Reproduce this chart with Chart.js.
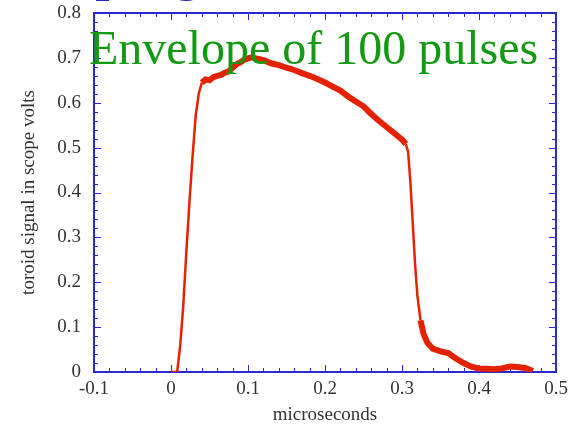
<!DOCTYPE html>
<html>
<head>
<meta charset="utf-8">
<script src="https://cdn.jsdelivr.net/npm/chart.js@4"></script>
<style>
html,body{margin:0;padding:0;background:#fff;}
#wrap{width:571px;height:426px;}
</style>
</head>
<body>
<div id="wrap"><canvas id="c" width="571" height="426"></canvas></div>
<script>
// time in microseconds
const times = [0.000,0.008,0.012,0.016,0.020,0.024,0.028,0.032,0.036,0.040,0.045,0.050,0.055,0.060,0.065,0.070,0.075,0.080,0.085,0.090,0.095,0.100,0.105,0.110,0.115,0.120,0.130,0.140,0.150,0.160,0.170,0.180,0.190,0.200,0.210,0.220,0.230,0.240,0.250,0.260,0.270,0.280,0.290,0.300,0.305,0.308,0.311,0.314,0.317,0.320,0.324,0.328,0.333,0.340,0.350,0.360,0.370,0.380,0.390,0.400,0.410,0.420,0.430,0.440,0.450,0.460,0.470];
// toroid signal (scope volts)
const volts = [0,0,0.06,0.15,0.27,0.38,0.48,0.57,0.62,0.645,0.652,0.650,0.657,0.660,0.662,0.667,0.670,0.678,0.686,0.690,0.696,0.699,0.701,0.699,0.697,0.695,0.688,0.684,0.678,0.673,0.666,0.660,0.653,0.645,0.636,0.627,0.614,0.603,0.592,0.575,0.560,0.546,0.532,0.518,0.508,0.49,0.42,0.33,0.24,0.17,0.115,0.085,0.065,0.052,0.046,0.042,0.030,0.020,0.012,0.008,0.007,0.006,0.008,0.012,0.011,0.009,0.002];
const xTickLabels = ["-0.1","0","0.1","0.2","0.3","0.4","0.5"];
const yTickLabels = ["0","0.1","0.2","0.3","0.4","0.5","0.6","0.7","0.8"];

const serif = "'Liberation Serif', 'DejaVu Serif', serif";
const frameBlue = "#2a2ad0";

// frame with inward ticks on all four sides + overlay texts
const framePlugin = {
  id: "frame",
  beforeDatasetsDraw(chart){
    const {ctx, chartArea:a, scales:{x, y}} = chart;
    ctx.save();
    ctx.strokeStyle = frameBlue;
    ctx.lineWidth = 1;
    for(let i=0;i<=30;i++){
      const v = -0.1 + i*0.02;
      const px = Math.round(x.getPixelForValue(v)) + 0.5;
      const len = (i%5===0) ? 7 : 4;
      ctx.beginPath();
      ctx.moveTo(px, a.bottom); ctx.lineTo(px, a.bottom-len);
      ctx.moveTo(px, a.top); ctx.lineTo(px, a.top+len);
      ctx.stroke();
    }
    for(let i=0;i<=40;i++){
      const v = i*0.02;
      const py = Math.round(y.getPixelForValue(v)) + 0.5;
      const len = (i%5===0) ? 7 : 4;
      ctx.beginPath();
      ctx.moveTo(a.left, py); ctx.lineTo(a.left+len, py);
      ctx.moveTo(a.right, py); ctx.lineTo(a.right-len, py);
      ctx.stroke();
    }
    ctx.lineWidth = 2;
    ctx.strokeRect(a.left, a.top, a.right-a.left, a.bottom-a.top);
    ctx.restore();
  },
  afterDatasetsDraw(chart){
    const {ctx} = chart;
    ctx.save();
    ctx.fillStyle = "#129a12";
    ctx.font = "48px " + serif;
    ctx.textBaseline = "alphabetic";
    ctx.fillText("Envelope of 100 pulses", 89, 64);
    // slide heading cut off by the top edge
    ctx.fillStyle = "#2424c8";
    ctx.font = "60px " + serif;
    ctx.fillText("ping", 95, -12);
    ctx.restore();
  }
};

new Chart(document.getElementById("c"), {
  type: "line",
  data: {
    datasets: [{
      data: times.map((t,i)=>({x:t, y:volts[i]})),
      borderColor: "#e42200",
      borderWidth: 6,
      segment: {
        borderWidth: c => (c.p1.parsed.x <= 0.04 || (c.p0.parsed.x >= 0.305 && c.p1.parsed.x <= 0.324)) ? 2.5 : 6
      },
      pointRadius: 0,
      tension: 0,
      fill: false
    }]
  },
  options: {
    responsive: false,
    animation: false,
    layout: {padding: {left: 0, right: 15, top: 13, bottom: 0}},
    plugins: {legend: {display: false}, tooltip: {enabled: false}},
    scales: {
      x: {
        type: "linear", min: -0.1, max: 0.5,
        afterFit: s => { s.height = 54; s.paddingLeft = 0; s.paddingRight = 0; },
        grid: {display: false, drawTicks: false},
        border: {display: false},
        ticks: {
          stepSize: 0.1, padding: 6,
          color: "#333", font: {family: serif, size: 19},
          callback: (v) => xTickLabels[Math.round((v + 0.1) * 10)]
        },
        title: {display: true, text: "microseconds", color: "#333", font: {family: serif, size: 19}, padding: {top: 0, bottom: 0}}
      },
      y: {
        min: 0, max: 0.8,
        afterFit: s => { s.width = 94; s.paddingTop = 0; s.paddingBottom = 0; },
        grid: {display: false, drawTicks: false},
        border: {display: false},
        ticks: {
          stepSize: 0.1, padding: 13,
          color: "#333", font: {family: serif, size: 19},
          callback: (v) => yTickLabels[Math.round(v * 10)]
        },
        title: {display: true, text: "toroid signal in scope volts", color: "#333", font: {family: serif, size: 19}, padding: {top: 18, bottom: 0}}
      }
    }
  },
  plugins: [framePlugin]
});
</script>
</body>
</html>
